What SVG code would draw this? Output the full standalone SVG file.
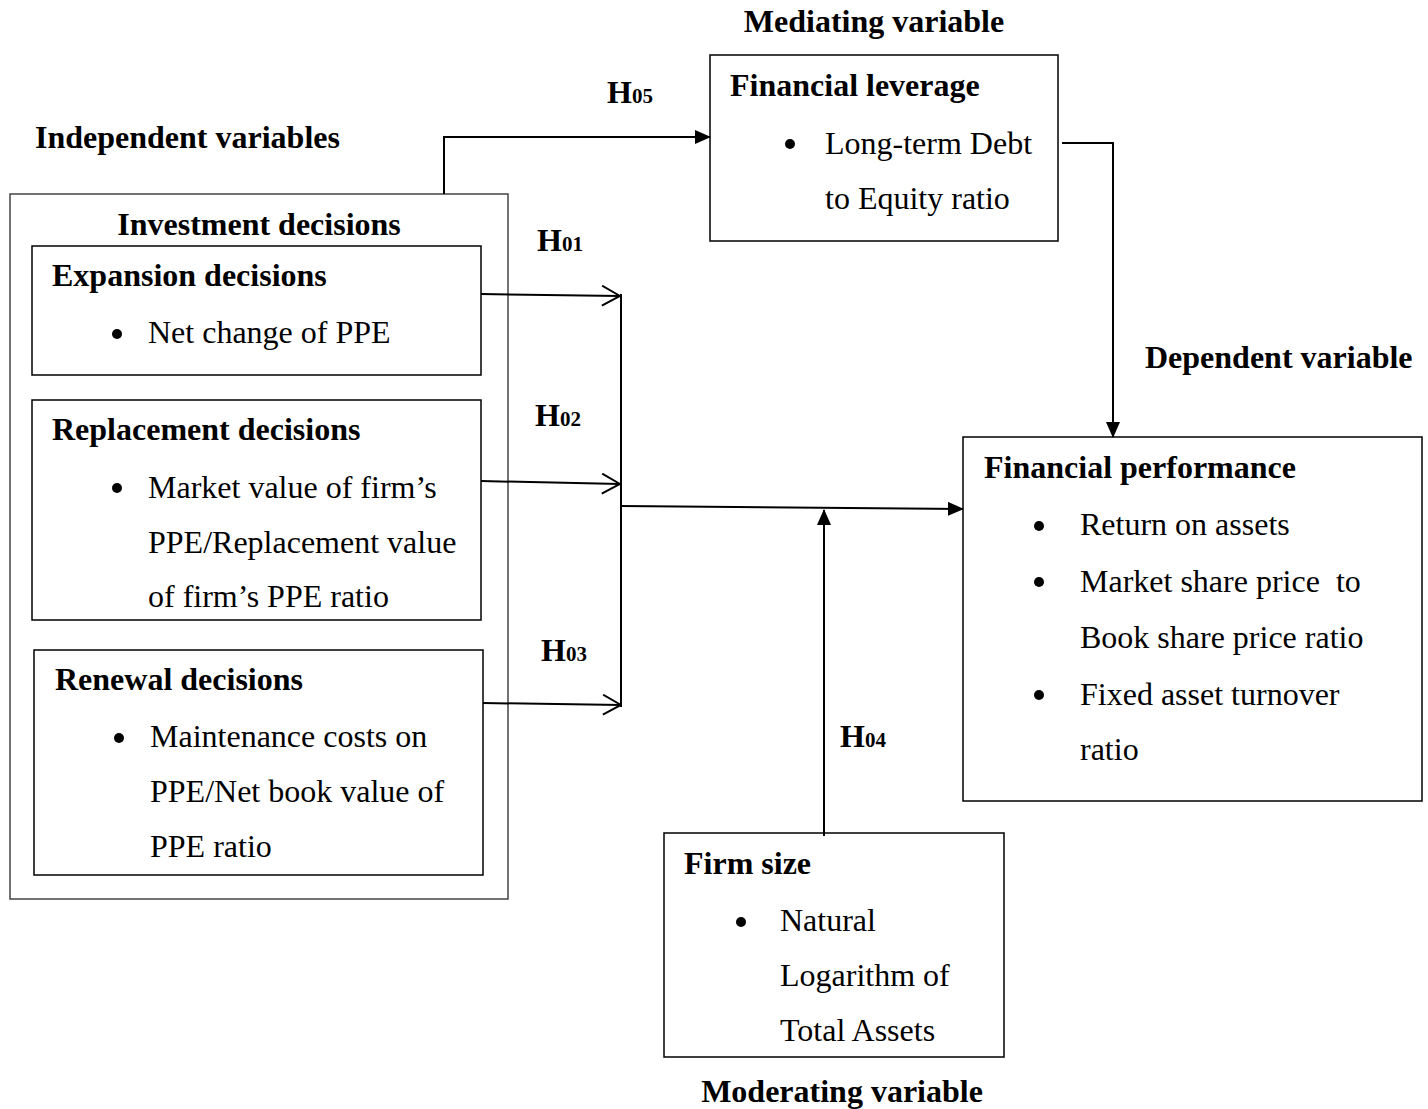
<svg xmlns="http://www.w3.org/2000/svg" width="1428" height="1109" viewBox="0 0 1428 1109">
<style>
text{font-family:"Liberation Serif","Times New Roman",serif;font-size:32px;fill:#000;white-space:pre}
.b{font-weight:bold}
.s{font-size:21px}
.box{fill:#fff;stroke:#000;stroke-width:1.5}
.outer{fill:#fff;stroke:#444;stroke-width:1.5}
.c{fill:none;stroke:#000;stroke-width:2}
</style>
<defs>
<marker id="fa" markerWidth="16" markerHeight="14" refX="15" refY="7" orient="auto" markerUnits="userSpaceOnUse"><path d="M0,0 L16,7 L0,14 Z" fill="#000"/></marker>
<marker id="oa" markerWidth="20" markerHeight="22" refX="19" refY="11" orient="auto" markerUnits="userSpaceOnUse"><path d="M1,1 L19,11 L1,21" fill="none" stroke="#000" stroke-width="2"/></marker>
</defs>
<rect width="1428" height="1109" fill="#fff"/>
<g transform="translate(0,1)">
<text class="b" x="874" y="31" text-anchor="middle">Mediating variable</text>
<text class="b" x="35" y="147">Independent variables</text>
<text class="b" x="1145" y="367">Dependent variable</text>
<text class="b" x="842" y="1101" text-anchor="middle">Moderating variable</text>
</g>
<g id="investment">
<rect class="outer" x="10" y="194" width="498" height="705"/>
<text class="b" x="259" y="235" text-anchor="middle">Investment decisions</text>
</g>
<g id="expansion">
<rect class="box" x="32" y="246" width="449" height="129"/>
<text class="b" x="52" y="286">Expansion decisions</text>
<circle cx="117" cy="334" r="5"/>
<text x="148" y="343">Net change of PPE</text>
</g>
<g id="replacement">
<rect class="box" x="32" y="400" width="449" height="220"/>
<text class="b" x="52" y="440">Replacement decisions</text>
<circle cx="117" cy="488" r="5"/>
<text x="148" y="498">Market value of firm’s</text>
<text x="148" y="553">PPE/Replacement value</text>
<text x="148" y="607">of firm’s PPE ratio</text>
</g>
<g id="renewal">
<rect class="box" x="34" y="650" width="449" height="225"/>
<text class="b" x="55" y="690">Renewal decisions</text>
<circle cx="119" cy="738" r="5"/>
<text x="150" y="747">Maintenance costs on</text>
<text x="150" y="802">PPE/Net book value of</text>
<text x="150" y="857">PPE ratio</text>
</g>
<g id="leverage">
<rect class="box" x="710" y="55" width="348" height="186"/>
<text class="b" x="730" y="96">Financial leverage</text>
<circle cx="790" cy="144" r="5"/>
<text x="825" y="154">Long-term Debt</text>
<text x="825" y="209">to Equity ratio</text>
</g>
<g id="performance">
<rect class="box" x="963" y="437" width="459" height="364"/>
<text class="b" x="984" y="478">Financial performance</text>
<circle cx="1039" cy="526" r="5"/>
<text x="1080" y="535">Return on assets</text>
<circle cx="1039" cy="582" r="5"/>
<text x="1080" y="592">Market share price  to</text>
<text x="1080" y="648">Book share price ratio</text>
<circle cx="1039" cy="695" r="5"/>
<text x="1080" y="705">Fixed asset turnover</text>
<text x="1080" y="760">ratio</text>
</g>
<g id="firmsize">
<rect class="box" x="664" y="833" width="340" height="224"/>
<text class="b" x="684" y="874">Firm size</text>
<circle cx="741" cy="922" r="5"/>
<text x="780" y="931">Natural</text>
<text x="780" y="986">Logarithm of</text>
<text x="780" y="1041">Total Assets</text>
</g>
<g id="labels">
<text class="b" x="607" y="103">H<tspan class="s">05</tspan></text>
<text class="b" x="537" y="251">H<tspan class="s">01</tspan></text>
<text class="b" x="535" y="426">H<tspan class="s">02</tspan></text>
<text class="b" x="541" y="661">H<tspan class="s">03</tspan></text>
<text class="b" x="840" y="747">H<tspan class="s">04</tspan></text>
</g>
<g id="connectors">
<path class="c" d="M444,194 V137 H710" marker-end="url(#fa)"/>
<path class="c" d="M1062,143 H1113 V437" marker-end="url(#fa)"/>
<path class="c" d="M481,294 L620,296" marker-end="url(#oa)"/>
<path class="c" d="M481,481 L620,484" marker-end="url(#oa)"/>
<path class="c" d="M483,703 L621,705" marker-end="url(#oa)"/>
<path class="c" d="M621,294 V707"/>
<path class="c" d="M621,506 L963,509" marker-end="url(#fa)"/>
<path class="c" d="M824,836 V510" marker-end="url(#fa)"/>
</g>
</svg>
